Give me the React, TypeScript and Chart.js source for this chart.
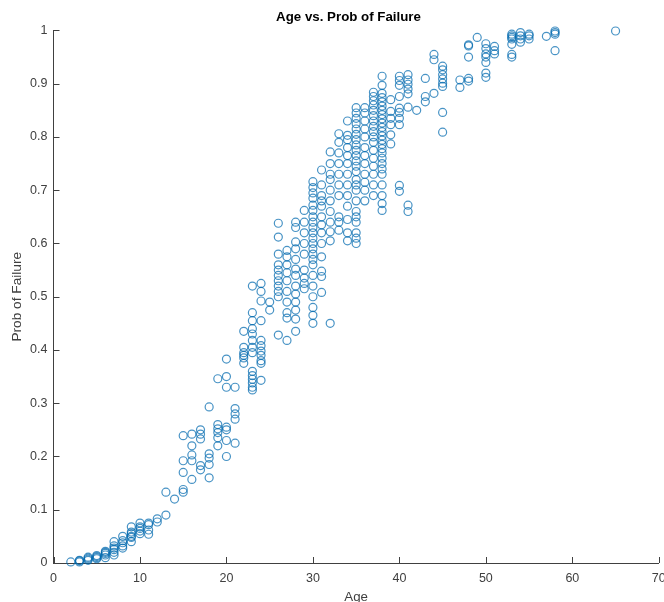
import React, { useEffect, useRef } from "react";
import { Chart, registerables } from "chart.js";

Chart.register(...registerables);

const chartTitle = "Age vs. Prob of Failure";
const xLabel = "Age";
const yLabel = "Prob of Failure";
const xTicks = [0, 10, 20, 30, 40, 50, 60, 70];
const yTicks = [0, 0.1, 0.2, 0.3, 0.4, 0.5, 0.6, 0.7, 0.8, 0.9, 1];

const ages = [2, 3, 4, 5, 6, 7, 8, 9, 10, 11, 12, 13, 14, 15, 16, 17, 18, 19, 20, 21, 22, 23, 24, 25, 26, 27, 28, 29, 30, 31, 32, 33, 34, 35, 36, 37, 38, 39, 40, 41, 42, 43, 44, 45, 47, 48, 49, 50, 51, 53, 54, 55, 57, 58, 65];
const probByAge = [
  [0.002],
  [0.002, 0.004, 0.005],
  [0.005, 0.007, 0.009, 0.011],
  [0.008, 0.01, 0.012, 0.014],
  [0.01, 0.015, 0.018, 0.02, 0.022],
  [0.015, 0.02, 0.025, 0.028, 0.032, 0.04],
  [0.028, 0.032, 0.038, 0.042, 0.05],
  [0.04, 0.048, 0.05, 0.055, 0.058, 0.068],
  [0.055, 0.06, 0.065, 0.068, 0.075],
  [0.054, 0.062, 0.072, 0.075],
  [0.077, 0.083],
  [0.09, 0.133],
  [0.12],
  [0.133, 0.138, 0.17, 0.192, 0.239],
  [0.157, 0.192, 0.203, 0.22, 0.242],
  [0.175, 0.183, 0.233, 0.242, 0.25],
  [0.16, 0.185, 0.197, 0.205, 0.293],
  [0.22, 0.235, 0.245, 0.252, 0.26, 0.346],
  [0.2, 0.23, 0.25, 0.255, 0.33, 0.35, 0.383],
  [0.225, 0.27, 0.28, 0.29, 0.33],
  [0.375, 0.385, 0.39, 0.395, 0.405, 0.435],
  [0.325, 0.33, 0.338, 0.345, 0.352, 0.36, 0.395, 0.405, 0.418, 0.43, 0.44, 0.455, 0.47, 0.52],
  [0.343, 0.375, 0.38, 0.39, 0.398, 0.408, 0.418, 0.455, 0.492, 0.51, 0.525],
  [0.475, 0.49],
  [0.428, 0.5, 0.51, 0.52, 0.53, 0.54, 0.55, 0.56, 0.58, 0.612, 0.638],
  [0.418, 0.46, 0.47, 0.49, 0.51, 0.53, 0.545, 0.56, 0.575, 0.587],
  [0.435, 0.458, 0.475, 0.49, 0.505, 0.52, 0.54, 0.552, 0.57, 0.59, 0.603, 0.63, 0.64],
  [0.515, 0.525, 0.535, 0.55, 0.58, 0.6, 0.62, 0.64, 0.662],
  [0.45, 0.465, 0.48, 0.5, 0.52, 0.54, 0.56, 0.57, 0.58, 0.59, 0.6, 0.61, 0.62, 0.63, 0.64, 0.65, 0.662, 0.672, 0.685, 0.695, 0.705, 0.716],
  [0.508, 0.538, 0.548, 0.575, 0.6, 0.62, 0.635, 0.65, 0.67, 0.68, 0.69, 0.71, 0.738],
  [0.45, 0.605, 0.622, 0.64, 0.66, 0.68, 0.7, 0.72, 0.73, 0.75, 0.772],
  [0.625, 0.64, 0.65, 0.69, 0.71, 0.73, 0.75, 0.77, 0.79, 0.806],
  [0.605, 0.62, 0.645, 0.67, 0.69, 0.71, 0.73, 0.75, 0.765, 0.78, 0.795, 0.803, 0.83],
  [0.6, 0.61, 0.62, 0.64, 0.65, 0.66, 0.68, 0.7, 0.71, 0.72, 0.735, 0.745, 0.755, 0.765, 0.775, 0.785, 0.795, 0.805, 0.815, 0.825, 0.835, 0.845, 0.855],
  [0.68, 0.7, 0.715, 0.73, 0.75, 0.765, 0.78, 0.8, 0.815, 0.83, 0.845, 0.855],
  [0.69, 0.71, 0.73, 0.745, 0.76, 0.775, 0.79, 0.8, 0.81, 0.82, 0.83, 0.84, 0.85, 0.86, 0.868, 0.876, 0.884],
  [0.662, 0.675, 0.69, 0.71, 0.73, 0.74, 0.75, 0.76, 0.77, 0.778, 0.786, 0.794, 0.802, 0.81, 0.818, 0.826, 0.834, 0.842, 0.85, 0.858, 0.866, 0.874, 0.882, 0.897, 0.914],
  [0.787, 0.804, 0.823, 0.835, 0.848, 0.87],
  [0.698, 0.709, 0.823, 0.835, 0.846, 0.854, 0.876, 0.897, 0.906, 0.914],
  [0.66, 0.672, 0.856, 0.881, 0.89, 0.899, 0.907, 0.917],
  [0.85],
  [0.866, 0.876, 0.91],
  [0.882, 0.945, 0.955],
  [0.809, 0.846, 0.895, 0.901, 0.909, 0.917, 0.926, 0.933],
  [0.893, 0.907],
  [0.905, 0.91, 0.95, 0.971, 0.973],
  [0.987],
  [0.912, 0.92, 0.94, 0.95, 0.956, 0.966, 0.975],
  [0.956, 0.962, 0.97],
  [0.95, 0.955, 0.974, 0.984, 0.987, 0.99, 0.993],
  [0.978, 0.984, 0.99, 0.996],
  [0.984, 0.99, 0.993],
  [0.989],
  [0.962, 0.993, 0.996, 0.999],
  [0.999],
];

const INK = "#404040";
const FONT = "'Liberation Sans', Arial, sans-serif";

const points = ages.flatMap((age, i) => probByAge[i].map((p) => ({ x: age, y: p })));

const matlabLook = {
  id: "matlabLook",
  afterLayout(chart: any) {
    const t = chart.titleBlock;
    if (t) {
      t.left += 19;
      t.right += 19;
    }
  },
  afterDatasetsDraw(chart: any) {
    const { ctx, chartArea, scales } = chart;
    ctx.save();
    ctx.strokeStyle = INK;
    ctx.lineWidth = 1;
    ctx.beginPath();
    for (const t of xTicks) {
      const px = Math.round(scales.x.getPixelForValue(t)) + 0.5;
      ctx.moveTo(px, chartArea.bottom);
      ctx.lineTo(px, chartArea.bottom - 6);
    }
    for (const t of yTicks) {
      if (t === 0) continue;
      const py = Math.round(scales.y.getPixelForValue(t)) + 0.5;
      ctx.moveTo(chartArea.left, py);
      ctx.lineTo(chartArea.left + 6, py);
    }
    ctx.stroke();
    ctx.restore();
  },
};

export default function App() {
  const ref = useRef<HTMLCanvasElement>(null);
  useEffect(() => {
    document.body.style.margin = "0";
    const chart = new Chart(ref.current!, {
      type: "scatter",
      data: {
        datasets: [
          {
            data: points,
            clip: false,
            pointStyle: "circle",
            pointRadius: 4,
            pointBorderWidth: 1.2,
            pointBackgroundColor: "rgba(0,0,0,0)",
            pointBorderColor: "rgba(0,105,175,0.72)",
          },
        ],
      },
      options: {
        animation: false,
        responsive: false,
        layout: { padding: { top: 0, right: 5, left: 0, bottom: 0 } },
        plugins: {
          legend: { display: false },
          tooltip: { enabled: false },
          title: {
            display: true,
            text: chartTitle,
            color: "#000000",
            font: { family: FONT, size: 13.3, weight: "bold", lineHeight: 1.2 },
            padding: { top: 9, bottom: 5.5 },
          },
        },
        scales: {
          x: {
            type: "linear",
            min: 0,
            max: 70,
            afterBuildTicks(s: any) {
              s.ticks = xTicks.map((value) => ({ value }));
            },
            afterFit(s: any) {
              s.height = 39;
              s.paddingRight = 0;
              s.paddingLeft = 0;
            },
            border: { display: true, color: INK, width: 1 },
            grid: { display: false, drawTicks: false },
            ticks: { color: INK, font: { family: FONT, size: 12.5 }, padding: 8, maxRotation: 0, autoSkip: false },
            title: { display: true, text: xLabel, color: INK, font: { family: FONT, size: 13.3 }, padding: { top: 1, bottom: -3 } },
          },
          y: {
            type: "linear",
            min: 0,
            max: 1,
            afterBuildTicks(s: any) {
              s.ticks = yTicks.map((value) => ({ value }));
            },
            afterFit(s: any) {
              s.width = 53.5;
              s.paddingTop = 0;
              s.paddingBottom = 0;
            },
            border: { display: true, color: INK, width: 1 },
            grid: { display: false, drawTicks: false },
            ticks: { color: INK, font: { family: FONT, size: 12.5 }, padding: 6, autoSkip: false, callback: (v: any) => String(v) },
            title: { display: true, text: yLabel, color: INK, font: { family: FONT, size: 13.7 }, padding: { top: 9, bottom: 0 } },
          },
        },
      },
      plugins: [matlabLook],
    } as any);
    return () => chart.destroy();
  }, []);
  return <canvas ref={ref} width={664} height={602} style={{ display: "block" }} />;
}
